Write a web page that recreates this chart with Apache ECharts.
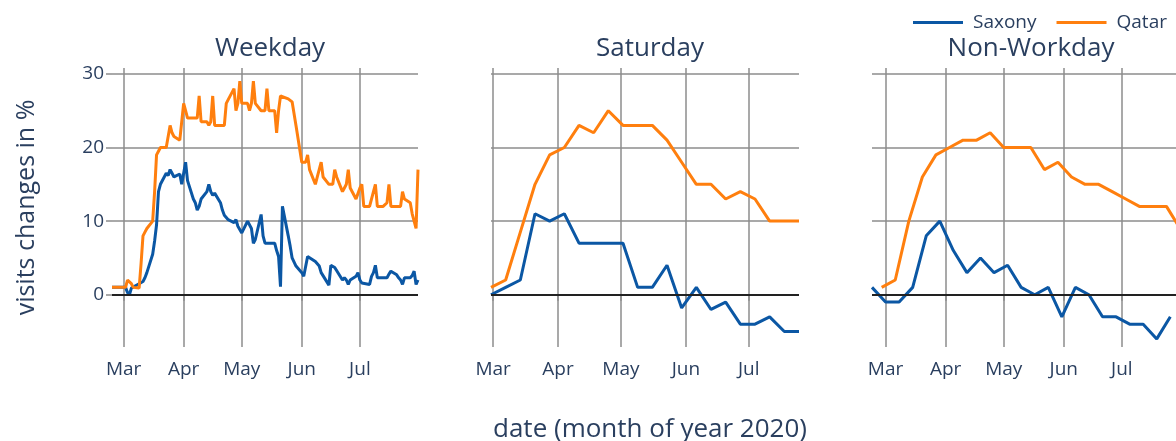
<!DOCTYPE html>
<html>
<head>
<meta charset="utf-8">
<script src="https://cdn.jsdelivr.net/npm/echarts@6/dist/echarts.min.js"></script>
<style>
  html, body { margin: 0; padding: 0; background: #fff; }
  #chart { width: 1176px; height: 441px; }
</style>
</head>
<body>
<div id="chart"></div>
<script>
// weekday dates (Mon-Fri), 2020
const weekdayDates = [
  '02-24','02-25','02-26','02-27','02-28',
  '03-02','03-03','03-04','03-05','03-06',
  '03-09','03-10','03-11','03-12','03-13',
  '03-16','03-17','03-18','03-19','03-20',
  '03-23','03-24','03-25','03-26','03-27',
  '03-30','03-31','04-01','04-02','04-03',
  '04-06','04-07','04-08','04-09','04-10',
  '04-13','04-14','04-15','04-16','04-17',
  '04-20','04-21','04-22','04-23','04-24',
  '04-27','04-28','04-29','04-30','05-01',
  '05-04','05-05','05-06','05-07','05-08',
  '05-11','05-12','05-13','05-14','05-15',
  '05-18','05-19','05-20','05-21','05-22',
  '05-25','05-26','05-27','05-28','05-29',
  '06-01','06-02','06-03','06-04','06-05',
  '06-08','06-09','06-10','06-11','06-12',
  '06-15','06-16','06-17','06-18','06-19',
  '06-22','06-23','06-24','06-25','06-26',
  '06-29','06-30','07-01','07-02','07-03',
  '07-06','07-07','07-08','07-09','07-10',
  '07-13','07-14','07-15','07-16','07-17',
  '07-20','07-21','07-22','07-23','07-24',
  '07-27','07-28','07-29','07-30','07-31'
];
const weekdaySaxony = [
  1, 1, 1, 1, 1,
  1, 0.3, 0, 0.9, 1,
  1.5, 1.4, 1.8, 2.3, 3,
  5.5, 7.3, 9.5, 14, 15,
  16.5, 16.2, 17, 16.5, 16,
  16.4, 15, 16.5, 18, 15.5,
  13, 12.5, 11.5, 12, 13,
  14, 15, 14, 13.5, 13.8,
  12.5, 11.5, 10.8, 11, 10.2,
  9.8, 10.2, 9.3, 9.5, 8.4,
  10, 10, 9, 7, 7.5,
  10.9, 8, 7, 7, 7,
  7, 6, 5.2, 1.1, 12,
  8, 6.6, 5, 4.8, 3.9,
  3, 2.5, 2.3, 5.2, 5,
  4.5, 4.2, 3.9, 3, 3,
  1.3, 4, 3.8, 3.7, 3.6,
  2, 2.3, 2, 1.4, 2,
  2.5, 3, 2, 1.6, 1.5,
  1.4, 2.5, 3, 4, 2.3,
  2.3, 2.3, 2.3, 2.8, 3.2,
  2.7, 2.3, 2, 1.4, 2.3,
  2.3, 2.6, 3.2, 1.4, 2
];
const weekdayQatar = [
  1, 1, 1, 1, 1,
  1, 2, 1.8, 1.5, 1,
  0.9, 4.2, 8, 8.5, 9,
  10, 14, 19, 19.5, 20,
  20, 21.5, 23, 22, 21.5,
  21, 21, 26, 25, 24,
  24, 24, 24, 27, 23.5,
  23.5, 23, 23.5, 27, 23,
  23, 23, 23, 26, 26.5,
  28, 25, 26, 29, 26,
  26, 25, 26, 29, 26,
  25, 25, 25, 28, 25,
  25, 22, 25, 27, 26.8,
  26.6, 26.4, 26.2, 26, 23,
  18, 18, 18, 19, 17,
  15, 16, 16, 18, 16,
  15, 15, 15, 17, 16,
  14, 14.5, 15, 17, 14.5,
  13, 13, 14.5, 15, 12,
  12, 12, 14, 15, 12,
  12, 12, 12.5, 15, 12,
  12, 12, 12, 14, 13,
  12.5, 11, 10, 9, 17
];

// Saturdays
const saturdayDates = ['02-29','03-07','03-14','03-21','03-28','04-04','04-11','04-18','04-25','05-02','05-09',
  '05-16','05-23','05-30','06-06','06-13','06-20','06-27','07-04','07-11','07-18','07-25'];
const saturdaySaxony = [0, 1, 2, 11, 10, 11, 7, 7, 7, 7, 1, 1, 4, -1.8, 1, -2, -1, -4, -4, -3, -5, -5];
const saturdayQatar = [1, 2, 8.5, 15, 19, 20, 23, 22, 25, 23, 23, 23, 21, 18, 15, 15, 13, 14, 13, 10, 10, 10];

// non-workdays (Sundays for Saxony, Fridays for Qatar)
const nonWorkSaxonyDates = ['02-23','03-01','03-08','03-15','03-22','03-29','04-05','04-12','04-19','04-26','05-03',
  '05-10','05-17','05-24','05-31','06-07','06-14','06-21','06-28','07-05','07-12','07-19','07-26'];
const nonWorkSaxony = [1, -1, -1, 1, 8, 10, 6, 3, 5, 3, 4, 1, 0, 1, -3, 1, 0, -3, -3, -4, -4, -6, -3];
const nonWorkQatarDates = ['02-28','03-06','03-13','03-20','03-27','04-03','04-10','04-17','04-24','05-01','05-08',
  '05-15','05-22','05-29','06-05','06-12','06-19','06-26','07-03','07-10','07-17','07-24','07-31'];
const nonWorkQatar = [1, 2, 10, 16, 19, 20, 21, 21, 22, 20, 20, 20, 17, 18, 16, 15, 15, 14, 13, 12, 12, 12, 9];

const panelTitles = ['Weekday', 'Saturday', 'Non-Workday'];
const monthTicks = [3, 4, 5, 6, 7];
const monthNames = ['Jan','Feb','Mar','Apr','May','Jun','Jul','Aug','Sep','Oct','Nov','Dec'];
const yTicks = [0, 10, 20, 30];

const BLUE = '#0b57a4';
const ORANGE = '#ff7f0e';
const TEXT = '#2a3f5f';
const GRIDC = '#8c8c8c';
const FONT = '"Open Sans", "Noto Sans", sans-serif';

function day(s) {
  const p = s.split('-');
  return new Date(2020, +p[0] - 1, +p[1]).getTime();
}
function pairs(dates, vals) {
  return dates.map((d, i) => [day(d), vals[i]]);
}

const monthValues = monthTicks.map(m => new Date(2020, m - 1, 1).getTime());

// panel geometry
const panels = [
  { left: 112, width: 306, min: '02-24', max: '07-31' },
  { left: 491, width: 308, min: '02-29', max: '07-25' },
  { left: 872, width: 308, min: '02-23', max: '07-31' }
];
const TOP = 68, HEIGHT = 279;

const chart = echarts.init(document.getElementById('chart'), null, { renderer: 'canvas' });

const grids = panels.map(p => ({
  left: p.left, top: TOP, width: p.width, height: HEIGHT,
  containLabel: false, outerBoundsMode: 'none'
}));

// x axes hold timestamps; month ticks placed by customValues
const xAxes = panels.map((p, i) => ({
  type: 'value',
  gridIndex: i,
  min: day(p.min),
  max: day(p.max),
  axisLine: { show: false },
  axisTick: { show: true, length: 6, customValues: monthValues, lineStyle: { color: GRIDC, width: 1.5 } },
  axisLabel: {
    customValues: monthValues,
    color: TEXT, fontFamily: FONT, fontSize: 19, margin: 13,
    formatter: v => monthNames[new Date(v).getMonth()]
  },
  splitLine: { show: true, lineStyle: { color: GRIDC, width: 1.5 } }
}));

const yAxes = panels.map((p, i) => ({
  type: 'value',
  gridIndex: i,
  min: -7.1,
  max: 30.8,
  axisLine: { show: false },
  axisTick: { show: i === 0, length: 6, customValues: yTicks, lineStyle: { color: GRIDC, width: 1.5 } },
  axisLabel: {
    show: i === 0, customValues: yTicks,
    color: TEXT, fontFamily: FONT, fontSize: 19, margin: 8
  },
  splitLine: { show: true, lineStyle: { color: GRIDC, width: 1.5 } },
  name: i === 0 ? 'visits changes in %' : '',
  nameLocation: 'middle',
  nameRotate: 90,
  nameGap: 73,
  nameTextStyle: { color: TEXT, fontFamily: FONT, fontSize: 25 }
}));

const zeroLine = {
  silent: true,
  symbol: ['none', 'none'],
  label: { show: false },
  lineStyle: { color: '#222', width: 2, type: 'solid' },
  data: [{ yAxis: 0 }]
};

function lineSeries(name, color, idx, data, withZero) {
  const s = {
    name: name,
    type: 'line',
    xAxisIndex: idx,
    yAxisIndex: idx,
    data: data,
    symbol: 'none',
    showSymbol: false,
    lineStyle: { color: color, width: 3 },
    itemStyle: { color: color },
    animation: false
  };
  if (withZero) s.markLine = zeroLine;
  return s;
}

const series = [
  lineSeries('Saxony', BLUE, 0, pairs(weekdayDates, weekdaySaxony), true),
  lineSeries('Qatar', ORANGE, 0, pairs(weekdayDates, weekdayQatar), false),
  lineSeries('Saxony', BLUE, 1, pairs(saturdayDates, saturdaySaxony), true),
  lineSeries('Qatar', ORANGE, 1, pairs(saturdayDates, saturdayQatar), false),
  lineSeries('Saxony', BLUE, 2, pairs(nonWorkSaxonyDates, nonWorkSaxony), true),
  lineSeries('Qatar', ORANGE, 2, pairs(nonWorkQatarDates, nonWorkQatar), false)
];

const titles = panels.map((p, i) => ({
  text: panelTitles[i],
  left: p.left + p.width / 2,
  top: 31,
  textAlign: 'center',
  textStyle: { color: TEXT, fontFamily: FONT, fontSize: 26, fontWeight: 'normal' }
}));
titles.push({
  text: 'date (month of year 2020)',
  left: 645,
  top: 412,
  textAlign: 'center',
  textStyle: { color: TEXT, fontFamily: FONT, fontSize: 26, fontWeight: 'normal' }
});

chart.setOption({
  backgroundColor: '#fff',
  animation: false,
  title: titles,
  legend: {
    data: [{ name: 'Saxony', icon: 'rect' }, { name: 'Qatar', icon: 'rect' }],
    left: 908,
    top: 8,
    itemWidth: 50,
    itemHeight: 3,
    itemGap: 20,
    textStyle: { color: TEXT, fontFamily: FONT, fontSize: 19, padding: [0, 0, 0, 5] }
  },
  grid: grids,
  xAxis: xAxes,
  yAxis: yAxes,
  series: series
});
</script>
</body>
</html>
